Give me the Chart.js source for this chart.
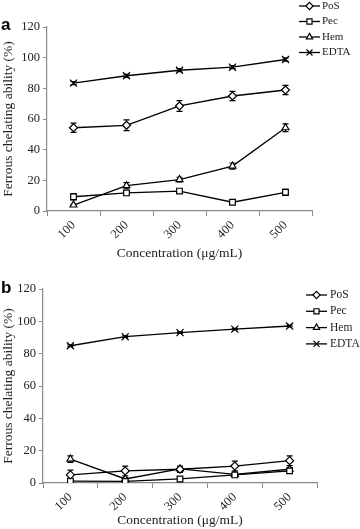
<!DOCTYPE html>
<html>
<head>
<meta charset="utf-8">
<script src="https://cdn.jsdelivr.net/npm/chart.js@4.4.0/dist/chart.umd.min.js"></script>
<style>
  html, body { margin: 0; padding: 0; background: #fff; }
  body { width: 360px; height: 529px; position: relative; overflow: hidden; }
  .panel { position: absolute; left: 0; width: 360px; }
  #panelA { top: 0; height: 262px; }
  #panelB { top: 262px; height: 267px; }
</style>
</head>
<body>
<div class="panel" id="panelA"><canvas id="chart-a"></canvas></div>
<div class="panel" id="panelB"><canvas id="chart-b"></canvas></div>
<script>
const concentrations = ["100", "200", "300", "400", "500"];
const seriesNames = ["PoS", "Pec", "Hem", "EDTA"];
const pointStyles = ["rectRot", "rect", "triangle", "crossRot"];

// panel a
const posA = [54.3, 55.9, 68.5, 75.0, 78.9];
const pecA = [9.3, 11.8, 13.0, 5.7, 12.2];
const hemA = [3.9, 16.5, 20.5, 29.3, 54.3];
const edtaA = [83.4, 88.2, 91.8, 93.8, 98.8];
const posErrA = [3, 3.5, 3.5, 3, 3];
const pecErrA = [2, 1.5, 1, 1, 2];
const hemErrA = [0.5, 2, 1.5, 2, 2.5];
const edtaErrA = [1, 1, 1, 1, 1];

// panel b
const posB = [5.0, 7.5, 8.5, 10.5, 13.8];
const pecB = [1.2, 1.0, 2.5, 5.0, 7.5];
const hemB = [14.8, 2.5, 8.7, 5.3, 8.5];
const edtaB = [84.9, 90.5, 93.0, 95.2, 97.1];
const posErrB = [3, 3, 2, 3, 3];
const pecErrB = [0.5, 0.5, 0.5, 0.5, 1];
const hemErrB = [2, 1, 1, 0.5, 1];
const edtaErrB = [0.5, 0.5, 0.5, 0.5, 0.5];

const axisColor = "#8a8a8a";
const serif = "'Liberation Serif', 'Times New Roman', serif";

// error bars, drawn under the markers
const errorBarPlugin = {
  id: "errorBars",
  beforeDatasetsDraw(chart, args, opts) {
    const ctx = chart.ctx;
    const yScale = chart.scales.y;
    ctx.save();
    ctx.strokeStyle = "#000";
    ctx.lineWidth = 1.2;
    chart.data.datasets.forEach((ds, i) => {
      const meta = chart.getDatasetMeta(i);
      const errs = opts.errors[i];
      meta.data.forEach((pt, j) => {
        const v = ds.data[j];
        const top = yScale.getPixelForValue(v + errs[j]);
        const bot = yScale.getPixelForValue(v - errs[j]);
        ctx.beginPath();
        ctx.moveTo(pt.x, top);
        ctx.lineTo(pt.x, bot);
        ctx.moveTo(pt.x - 3, top);
        ctx.lineTo(pt.x + 3, top);
        ctx.moveTo(pt.x - 3, bot);
        ctx.lineTo(pt.x + 3, bot);
        ctx.stroke();
      });
    });
    ctx.restore();
  }
};

// legend with a short line through the marker
const lineLegendPlugin = {
  id: "lineLegend",
  afterDraw(chart, args, opts) {
    const ctx = chart.ctx;
    ctx.save();
    ctx.font = opts.fontSize + "px " + serif;
    ctx.textBaseline = "middle";
    chart.data.datasets.forEach((ds, i) => {
      const y = opts.y + i * opts.gap;
      ctx.strokeStyle = "#000";
      ctx.lineWidth = 1.3;
      ctx.beginPath();
      ctx.moveTo(opts.x, y);
      ctx.lineTo(opts.x + 21, y);
      ctx.stroke();
      ctx.fillStyle = "#fff";
      ctx.lineWidth = 1.2;
      const r = ds.pointStyle === "crossRot" ? 4.2 : 3.6;
      Chart.helpers.drawPoint(ctx, { pointStyle: ds.pointStyle, radius: r, rotation: 0, borderWidth: 1.2 }, opts.x + 10.5, y);
      ctx.fillStyle = "#222";
      ctx.fillText(ds.label, opts.x + opts.textGap, y);
    });
    ctx.restore();
  }
};

const panelLetterPlugin = {
  id: "panelLetter",
  afterDraw(chart, args, opts) {
    const ctx = chart.ctx;
    ctx.save();
    ctx.font = "bold 17px 'Liberation Sans', Arial, sans-serif";
    ctx.fillStyle = "#000";
    ctx.textBaseline = "alphabetic";
    ctx.fillText(opts.text, opts.x, opts.y);
    ctx.restore();
  }
};

function makeDatasets(values) {
  return seriesNames.map((name, i) => ({
    label: name,
    data: values[i],
    borderColor: "#000",
    borderWidth: 1.3,
    pointStyle: pointStyles[i],
    pointRadius: pointStyles[i] === "crossRot" ? 5 : 4,
    pointBackgroundColor: "#fff",
    pointBorderColor: "#000",
    pointBorderWidth: 1.2,
    tension: 0
  }));
}

function makeChart(id, values, errors, cfg) {
  return new Chart(document.getElementById(id), {
    type: "line",
    data: { labels: concentrations, datasets: makeDatasets(values) },
    options: {
      responsive: true,
      maintainAspectRatio: false,
      animation: false,
      layout: { padding: { top: cfg.top, right: cfg.right, left: 0, bottom: 0 } },
      plugins: {
        legend: { display: false },
        tooltip: { enabled: false },
        errorBars: { errors: errors },
        lineLegend: cfg.legend,
        panelLetter: cfg.letter
      },
      scales: {
        x: {
          type: "category",
          offset: true,
          grid: { offset: true, drawOnChartArea: false, tickLength: 5, color: axisColor },
          border: { color: axisColor, width: 1.2 },
          ticks: { minRotation: 45, maxRotation: 45, color: "#222", font: { family: serif, size: 12.5 }, padding: 2 },
          title: { display: true, text: "Concentration (μg/mL)", color: "#222", font: { family: serif, size: 13.5 }, padding: { top: 1, bottom: 0 } },
          afterFit(s) { s.height = cfg.xh; }
        },
        y: {
          min: 0,
          max: 120,
          ticks: { stepSize: 20, color: "#222", font: { family: serif, size: 12.5 }, padding: 3 },
          grid: { drawOnChartArea: false, tickLength: 4, color: axisColor },
          border: { color: axisColor, width: 1.2 },
          title: { display: true, text: "Ferrous chelating ability (%)", color: "#222", font: { family: serif, size: 13.5 }, padding: 0 },
          afterFit(s) { s.width = cfg.yw; }
        }
      }
    },
    plugins: [errorBarPlugin, lineLegendPlugin, panelLetterPlugin]
  });
}

makeChart("chart-a", [posA, pecA, hemA, edtaA], [posErrA, pecErrA, hemErrA, edtaErrA], {
  top: 27, right: 48, xh: 51, yw: 47,
  legend: { x: 299, y: 6, gap: 15.5, textGap: 23, fontSize: 11 },
  letter: { text: "a", x: 1, y: 30 }
});

makeChart("chart-b", [posB, pecB, hemB, edtaB], [posErrB, pecErrB, hemErrB, edtaErrB], {
  top: 27, right: 43, xh: 46, yw: 43,
  legend: { x: 306, y: 33, gap: 16.3, textGap: 24, fontSize: 11.5 },
  letter: { text: "b", x: 1, y: 31 }
});
</script>
</body>
</html>
